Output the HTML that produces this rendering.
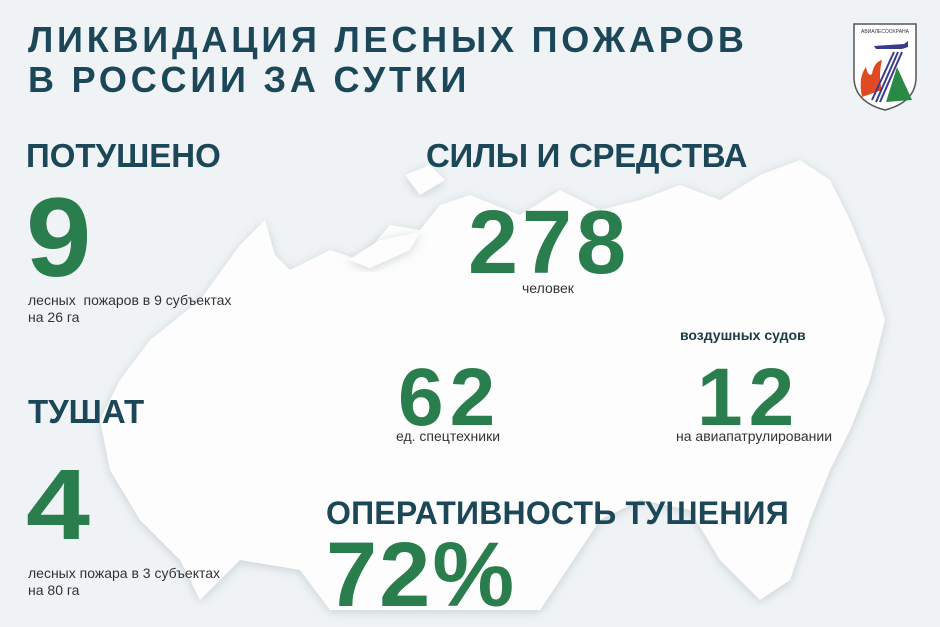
<!DOCTYPE html>
<html><head><meta charset="utf-8"><style>
body{margin:0;width:940px;height:627px;overflow:hidden;background:#eff3f5;font-family:"Liberation Sans",sans-serif;position:relative}
.a{position:absolute;white-space:nowrap;font-weight:bold}
.t{color:#1b4758}
.g{color:#2a7d4c;letter-spacing:2px}
.s{position:absolute;white-space:nowrap;font-size:14px;color:#333;line-height:17px}
</style></head><body>
<svg width="940" height="627" style="position:absolute;left:0;top:0">
<defs><filter id="f"><feDropShadow dx="0" dy="2" stdDeviation="5" flood-color="#9aa" flood-opacity="0.45"/></filter></defs>
<path filter="url(#f)" fill="#fdfdfd" d="M100 420 L120 380 L150 340 L200 300 L240 245 L265 220 L275 255 L290 270 L330 250 L360 260 L390 225 L420 230 L440 205 L470 195 L520 215 L560 190 L600 210 L640 200 L680 185 L720 200 L760 175 L800 160 L830 180 L850 220 L870 270 L885 320 L870 380 L850 430 L830 470 L810 520 L790 580 L760 600 L720 560 L690 510 L640 500 L600 520 L540 610 L330 610 L300 570 L240 560 L200 600 L180 560 L140 520 L110 470 Z"/>
<path filter="url(#f)" fill="#fdfdfd" d="M348 260 L380 240 L420 232 L410 250 L370 268 Z"/>
<path filter="url(#f)" fill="#fdfdfd" d="M405 175 L430 165 L445 180 L420 195 Z"/>
</svg>
<div class="a t" style="left:28px;top:20px;font-size:36px;line-height:40px;letter-spacing:3.8px">ЛИКВИДАЦИЯ ЛЕСНЫХ ПОЖАРОВ<br>В РОССИИ ЗА СУТКИ</div>
<svg width="66" height="90" style="position:absolute;left:852px;top:22px" viewBox="0 0 66 90">
<path d="M2 2 H64 V55 Q64 80 33 88 Q2 80 2 55 Z" fill="#fff" stroke="#555" stroke-width="1.5"/>
<text x="33" y="11" font-size="5" text-anchor="middle" fill="#334" font-family="Liberation Sans">АВИАЛЕСООХРАНА</text>
<path d="M22 24 L52 22 L56 19 L56 25 L50 27 L24 27 Z" fill="#3b3b8a"/>
<path d="M10 75 Q6 55 14 45 Q16 55 20 52 Q22 40 30 38 Q26 55 30 68 Z" fill="#e04a23"/>
<path d="M20 78 L42 30 M24 80 L46 30 M28 80 L50 30" stroke="#3b3b8a" stroke-width="2"/>
<path d="M45 45 L60 78 L34 80 Z" fill="#2a8a45"/>
</svg>
<div class="a t" style="left:26px;top:137px;font-size:33px">ПОТУШЕНО</div>
<div class="a g" style="left:26px;top:178px;font-size:112px;line-height:120px;transform:scaleX(1.05);transform-origin:left">9</div>
<div class="s" style="left:28px;top:292px">лесных&nbsp; пожаров в 9 субъектах<br>на 26 га</div>
<div class="a t" style="left:28px;top:393px;font-size:33px">ТУШАТ</div>
<div class="a g" style="left:26px;top:450px;font-size:100px;line-height:110px;transform:scaleX(1.15);transform-origin:left">4</div>
<div class="s" style="left:28px;top:565px">лесных пожара в 3 субъектах<br>на 80 га</div>
<div class="a t" style="left:426px;top:137px;font-size:33px;letter-spacing:-0.3px">СИЛЫ И СРЕДСТВА</div>
<div class="a g" style="left:468px;top:196px;font-size:90px;line-height:95px;letter-spacing:4px">278</div>
<div class="s" style="left:522px;top:280px">человек</div>
<div class="a g" style="left:398px;top:355px;font-size:82px;line-height:85px;letter-spacing:6px">62</div>
<div class="s" style="left:396px;top:428px">ед. спецтехники</div>
<div class="a" style="left:680px;top:327px;font-size:14px;color:#1b3a44">воздушных судов</div>
<div class="a g" style="left:697px;top:355px;font-size:82px;line-height:85px;letter-spacing:6px">12</div>
<div class="s" style="left:676px;top:428px">на авиапатрулировании</div>
<div class="a t" style="left:326px;top:495px;font-size:32px;letter-spacing:0.2px">ОПЕРАТИВНОСТЬ ТУШЕНИЯ</div>
<div class="a g" style="left:326px;top:528px;font-size:92px;line-height:95px">72%</div>
</body></html>
